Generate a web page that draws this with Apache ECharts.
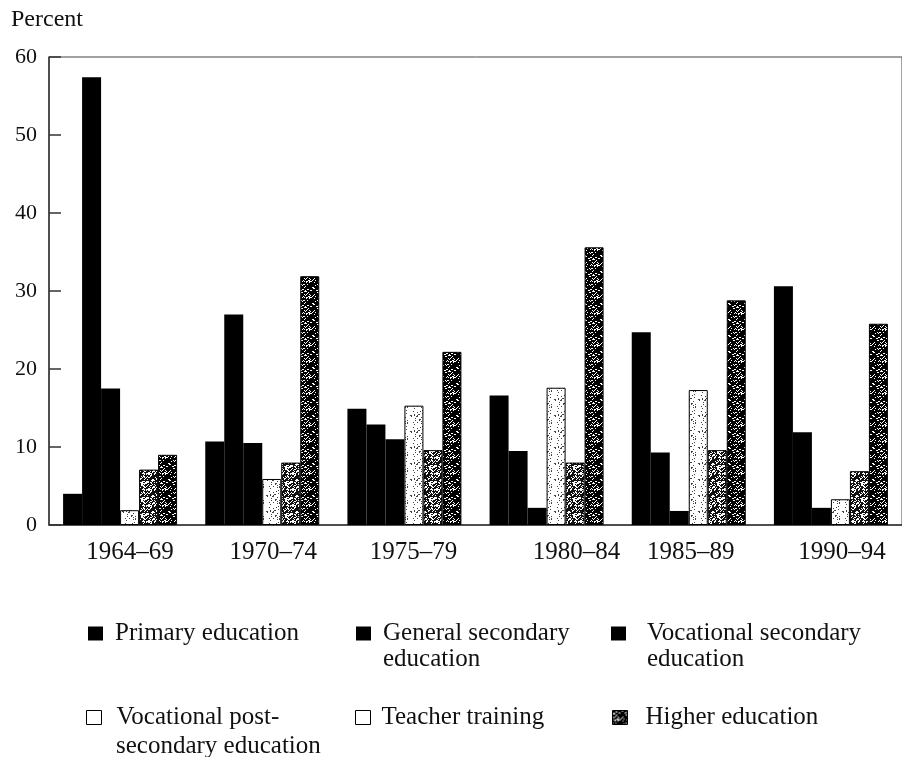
<!DOCTYPE html>
<html>
<head>
<meta charset="utf-8">
<script src="https://cdn.jsdelivr.net/npm/echarts@6/dist/echarts.min.js"></script>
<style>
html,body{margin:0;padding:0;background:#fff;}
#chart{width:902px;height:757px;}
</style>
</head>
<body>
<div id="chart"></div>
<script>
// ---- data ----
var categories = ['1964\u201369', '1970\u201374', '1975\u201379', '1980\u201384', '1985\u201389', '1990\u201394'];
var seriesNames = ['Primary education', 'General secondary education', 'Vocational secondary education',
                   'Vocational post-secondary education', 'Teacher training', 'Higher education'];
var primary      = [4.0, 10.7, 14.9, 16.6, 24.7, 30.6];
var generalSec   = [57.4, 27.0, 12.9, 9.5, 9.3, 11.9];
var vocationalSec= [17.5, 10.5, 11.0, 2.2, 1.8, 2.2];
var vocPostSec   = [1.9, 5.9, 15.3, 17.6, 17.3, 3.3];
var teacher      = [7.1, 8.0, 9.6, 8.0, 9.6, 6.9];
var higher       = [9.0, 31.9, 22.2, 35.6, 28.8, 25.8];
var yTicks = [0, 10, 20, 30, 40, 50, 60];
// legend text split into first line / second line, as printed
var legendFirst  = ['Primary education', 'General secondary', 'Vocational secondary',
                    'Vocational post-', 'Teacher training', 'Higher education'];
var legendSecond = ['', 'education', 'education', 'secondary education', '', ''];
// horizontal offsets of the printed category labels relative to group centres
var labelShift = [10, 11, 9, 30, 2, 11];

// ---- textures (deterministic speckle) ----
function makePattern(density, dark) {
  var c = document.createElement('canvas');
  c.width = 16; c.height = 16;
  var ctx = c.getContext('2d');
  ctx.fillStyle = '#fff';
  ctx.fillRect(0, 0, 16, 16);
  ctx.fillStyle = dark;
  for (var y = 0; y < 16; y++) {
    for (var x = 0; x < 16; x++) {
      var h = ((x * 73856093) ^ (y * 19349663) ^ (x * y * 83492791)) >>> 0;
      if ((h % 1000) / 1000 < density) ctx.fillRect(x, y, 1, 1);
    }
  }
  return c;
}
var patLight = { image: makePattern(0.10, '#444'), repeat: 'repeat' };
var patMid   = { image: makePattern(0.60, '#111'), repeat: 'repeat' };
var patDark  = { image: makePattern(0.80, '#000'), repeat: 'repeat' };

var serif = '"Liberation Serif", "Times New Roman", serif';
var values = [primary, generalSec, vocationalSec, vocPostSec, teacher, higher];
var fills = ['#000', '#000', '#000', patLight, patMid, patDark];

var series = seriesNames.map(function (n, i) {
  return {
    name: n,
    type: 'bar',
    data: values[i],
    barWidth: 19,
    barGap: '0%',
    itemStyle: { color: fills[i], borderColor: '#000', borderWidth: i >= 3 ? 1 : 0 },
    emphasis: { disabled: true }
  };
});

var legendPos = [[88, 620, 7], [356, 620, 7], [611, 620, 16], [86, 704, 10], [355, 704, 6], [612, 704, 13]];
var legendIconStyle = [
  { color: '#000' }, { color: '#000' }, { color: '#000' },
  { color: '#fff', borderColor: '#000', borderWidth: 1 },
  { color: '#fff', borderColor: '#000', borderWidth: 1 },
  { color: patDark, borderColor: '#000', borderWidth: 1 }
];
var legends = seriesNames.map(function (n, i) {
  var p = legendPos[i];
  return {
    data: [{ name: n, itemStyle: legendIconStyle[i] }],
    left: p[0], top: p[1], padding: 0,
    icon: 'rect',
    itemWidth: 15, itemHeight: 14,
    selectedMode: false,
    formatter: function () { return legendFirst[i]; },
    textStyle: { fontFamily: serif, fontSize: 25, color: '#111', lineHeight: 27, padding: [0, 0, 0, p[2]] }
  };
});
var secondLines = [];
legendSecond.forEach(function (t, i) {
  if (!t) return;
  var p = legendPos[i];
  secondLines.push({
    type: 'text',
    left: p[0] + 15 + 5 + p[2],
    top: p[1] + (i >= 3 ? 30 : 27),
    style: { text: t, font: '25px ' + serif, fill: '#111' }
  });
});

var rich = {};
labelShift.forEach(function (s, i) {
  rich['c' + i] = { fontFamily: serif, fontSize: 25, color: '#111', padding: [0, 0, 0, 2 * s] };
});

var chart = echarts.init(document.getElementById('chart'), null, { renderer: 'canvas' });
chart.setOption({
  animation: false,
  backgroundColor: '#fff',
  grid: { left: 49, top: 57, right: -5, bottom: 232, show: true, borderColor: '#444', borderWidth: 1 },
  title: {
    text: 'Percent', left: 11, top: 8, padding: 0,
    textStyle: { fontFamily: serif, fontSize: 24, fontWeight: 'normal', color: '#111' }
  },
  graphic: secondLines,
  xAxis: {
    type: 'category',
    data: categories,
    axisLine: { lineStyle: { color: '#333', width: 1.5 } },
    axisTick: { show: false },
    axisLabel: {
      margin: 15,
      formatter: function (v, idx) { return '{c' + idx + '|' + v + '}'; },
      rich: rich
    }
  },
  yAxis: {
    type: 'value', min: yTicks[0], max: yTicks[yTicks.length - 1], interval: 10,
    axisLine: { show: true, lineStyle: { color: '#333', width: 1.5 } },
    axisTick: { show: true, inside: true, length: 12, lineStyle: { color: '#333', width: 1.5 } },
    splitLine: { show: false },
    axisLabel: { fontFamily: serif, fontSize: 22, color: '#111', margin: 12 }
  },
  legend: legends,
  series: series
});
</script>
</body>
</html>
